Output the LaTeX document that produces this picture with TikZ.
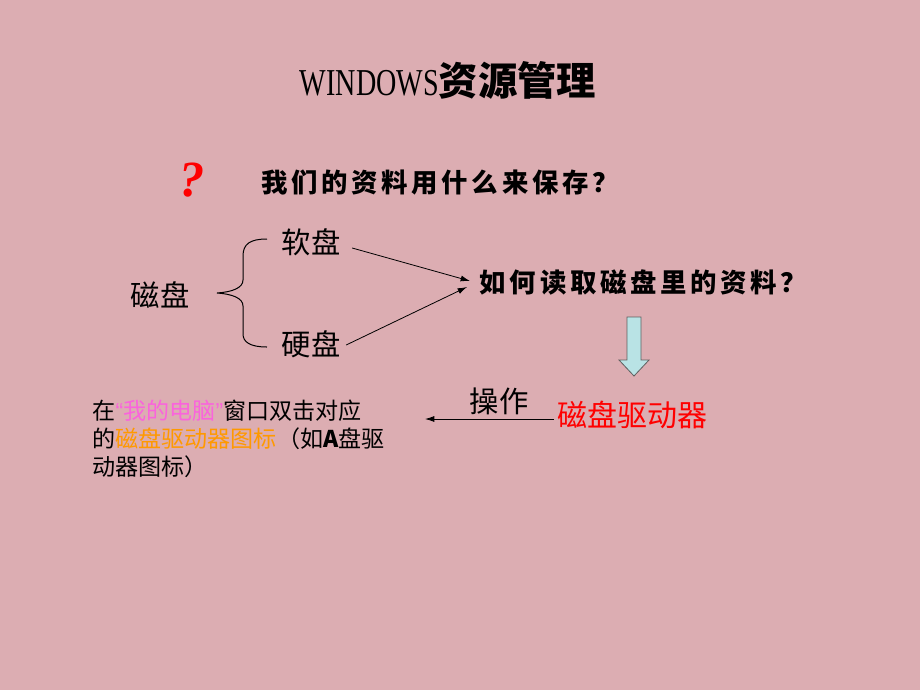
\documentclass[tikz,border=0pt]{standalone}
\usepackage{fontspec}
\setmainfont{Liberation Serif}
\newfontfamily\cjk{Noto Sans CJK SC}
\newfontfamily\cjkspaced[LetterSpace=14]{Noto Sans CJK SC}
\newfontfamily\titlelatin[FakeStretch=0.74]{Liberation Serif}
\newfontfamily\quotesans{Liberation Sans}
\usetikzlibrary{arrows.meta,calc}

\definecolor{bgpink}{RGB}{220,173,178}
\definecolor{pinkmag}{RGB}{250,100,220}
\definecolor{orangetext}{RGB}{255,153,0}
\definecolor{arrowcyan}{RGB}{185,227,229}
\definecolor{arrowgray}{RGB}{95,95,95}

\tikzset{
	plaintext/.style={font=\cjk\fontsize{22}{26}\selectfont, inner sep=1pt},
	brushtext/.style={font=\cjkspaced\bfseries\fontsize{19.8}{22}\selectfont, inner sep=1pt},
	notetext/.style={font=\cjk\fontsize{17.3}{21}\selectfont, align=left, inner sep=0pt},
	thinarrow/.style={-{Latex[length=7pt,width=4.5pt]}, line width=0.6pt}}
\tikzset{every picture/.style={line width=0.75pt}}

\begin{document}
\begin{tikzpicture}[x=0.75pt,y=0.75pt,yscale=-1,xscale=1]
	%background
	\fill[bgpink] (0,0) rectangle (920,690);

	% Text Node
	\node (title) at (448,80) {{\titlelatin\fontsize{28.5}{30}\selectfont WINDOWS}{\cjk\bfseries\fontsize{29.5}{30}\selectfont 资源管理}};
	% Text Node
	\node [font=\bfseries\itshape\fontsize{38}{40}\selectfont, text=red] (ask) at (192,180) {?};
	% Text Node
	\node [brushtext] (store) at (440,183) {我们的资料用什么来保存？};
	% Text Node
	\node [plaintext] (cipan) at (160,295) {磁盘};
	% Text Node
	\node [plaintext] (ruanpan) at (311,242) {软盘};
	% Text Node
	\node [plaintext] (yingpan) at (311,344) {硬盘};
	% Text Node
	\node [brushtext, anchor=west] (read) at (478,282) {如何读取磁盘里的资料？};
	% Text Node
	\node [plaintext] (caozuo) at (499,401) {操作};
	% Text Node
	\node [plaintext, text=red, font=\cjk\fontsize{22.5}{26}\selectfont] (qudong) at (632,415) {磁盘驱动器};
	% Text Node
	\node [notetext, anchor=north west] (note) at (92,399) {在{\color{pinkmag}{\quotesans“}我的电脑{\quotesans”}}窗口双击对应\\的{\color{orangetext}磁盘驱动器图标}（如\textbf{A}盘驱\\动器图标）};
	\coordinate (noteend) at (425,419);

	%Brace
	\draw (267,239) .. controls (250,239) and (243,244) .. (243,256) -- (243,280) .. controls (243,288) and (232,292) .. (217,293) .. controls (232,294) and (243,298) .. (243,306) -- (243,334) .. controls (243,342) and (250,347) .. (267,347);

	%Arrows
	\draw [thinarrow] ($(ruanpan.east)+(10,6)$) -- ($(read.west)+(-8,-1)$);
	\draw [thinarrow] ($(yingpan.east)+(4,1)$) -- ($(read.west)+(-11,5)$);
	\draw [thinarrow] ($(qudong.west)+(-1,4)$) -- (noteend);

	%Down Arrow
	\draw [draw=arrowgray, fill=arrowcyan, line width=0.6pt] (627,317) -- (641,317) -- (641,360) -- (649,360) -- (634,376) -- (619,360) -- (627,360) -- cycle;

\end{tikzpicture}
\end{document}
